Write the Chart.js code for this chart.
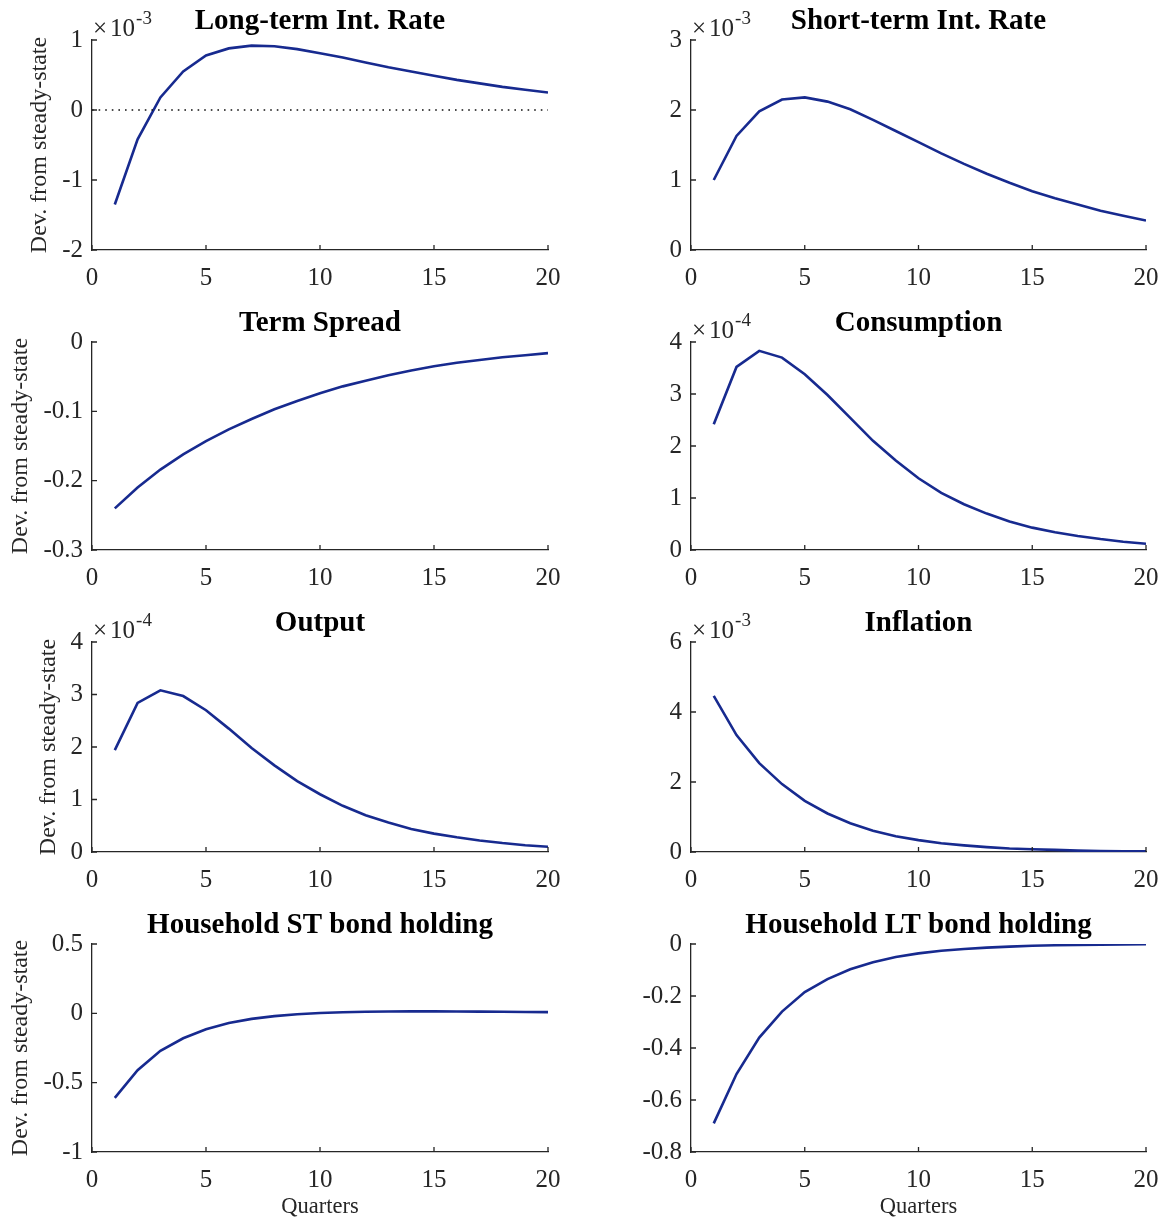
<!DOCTYPE html>
<html lang="en">
  <head>
    <meta charset="UTF-8" />
    <script src="https://cdn.jsdelivr.net/npm/chart.js"></script>
    <title>Impulse responses</title>
    <style>
      body { margin: 0; background: #fff; }
      #wrap { position: relative; width: 1171px; height: 1224px; }
      #wrap canvas { position: absolute; }
    </style>
  </head>
  <body>
    <div id="wrap"></div>

    <script>
      // ---- data ----
      const quarters = [1, 2, 3, 4, 5, 6, 7, 8, 9, 10, 11, 12, 13, 14, 15, 16, 17, 18, 19, 20];
      const xTicks = [0, 5, 10, 15, 20];

      // x 1e-3
      const longRate = [-1.35, -0.42, 0.18, 0.55, 0.78, 0.88, 0.92, 0.91, 0.87, 0.81,
        0.75, 0.68, 0.61, 0.55, 0.49, 0.43, 0.38, 0.33, 0.29, 0.25];
      // x 1e-3
      const shortRate = [1.0, 1.63, 1.98, 2.15, 2.18, 2.12, 2.01, 1.86, 1.70, 1.54,
        1.38, 1.23, 1.09, 0.96, 0.84, 0.74, 0.65, 0.56, 0.49, 0.42];
      const termSpread = [-0.24, -0.21, -0.184, -0.162, -0.143, -0.126, -0.111, -0.097, -0.085, -0.074,
        -0.064, -0.056, -0.048, -0.041, -0.035, -0.030, -0.026, -0.022, -0.019, -0.016];
      // x 1e-4
      const consumption = [2.42, 3.52, 3.83, 3.70, 3.38, 2.98, 2.54, 2.10, 1.72, 1.38,
        1.10, 0.88, 0.70, 0.55, 0.43, 0.34, 0.27, 0.21, 0.16, 0.12];
      // x 1e-4
      const output = [1.94, 2.84, 3.08, 2.97, 2.70, 2.35, 1.98, 1.65, 1.35, 1.10,
        0.88, 0.70, 0.56, 0.44, 0.35, 0.28, 0.22, 0.17, 0.13, 0.10];
      // x 1e-3
      const inflation = [4.46, 3.34, 2.54, 1.94, 1.46, 1.10, 0.82, 0.61, 0.45, 0.34,
        0.25, 0.19, 0.14, 0.10, 0.08, 0.06, 0.04, 0.03, 0.02, 0.02];
      const hhShortBond = [-0.61, -0.41, -0.27, -0.18, -0.115, -0.07, -0.04, -0.02, -0.007, 0.002,
        0.008, 0.011, 0.013, 0.014, 0.014, 0.013, 0.012, 0.011, 0.010, 0.009];
      const hhLongBond = [-0.69, -0.50, -0.36, -0.26, -0.185, -0.135, -0.097, -0.070, -0.050, -0.036,
        -0.026, -0.019, -0.014, -0.010, -0.007, -0.005, -0.004, -0.003, -0.002, -0.001];

      // dotted steady-state line in the first panel
      const zeroLineX = [0, 20];
      const zeroLineY = [0, 0];

      // y tick labels per panel
      const longRateTicks = [-2, -1, 0, 1];
      const shortRateTicks = [0, 1, 2, 3];
      const termSpreadTicks = [-0.3, -0.2, -0.1, 0];
      const consumptionTicks = [0, 1, 2, 3, 4];
      const outputTicks = [0, 1, 2, 3, 4];
      const inflationTicks = [0, 2, 4, 6];
      const hhShortTicks = [-1, -0.5, 0, 0.5];
      const hhLongTicks = [-0.8, -0.6, -0.4, -0.2, 0];

      // ---- layout of the 4x2 grid ----
      const colStart = [0, 600];
      const plotLeft = [92, 691];
      const plotRight = [548, 1146];
      const plotTop = [40, 342, 642, 944];
      const plotBottom = [250, 550, 852, 1152];
      const TOP_SPACE = 42;

      const LINE_COLOR = "#172a8f";
      const AXIS_COLOR = "#262626";
      const FONT = '"Liberation Serif", "Times New Roman", serif';

      const panels = [
        { title: "Long-term Int. Rate", y: longRate, ticks: longRateTicks, exp: "-3", row: 0, col: 0, labelX: 40, zero: true },
        { title: "Short-term Int. Rate", y: shortRate, ticks: shortRateTicks, exp: "-3", row: 0, col: 1 },
        { title: "Term Spread", y: termSpread, ticks: termSpreadTicks, row: 1, col: 0, labelX: 21 },
        { title: "Consumption", y: consumption, ticks: consumptionTicks, exp: "-4", row: 1, col: 1 },
        { title: "Output", y: output, ticks: outputTicks, exp: "-4", row: 2, col: 0, labelX: 49 },
        { title: "Inflation", y: inflation, ticks: inflationTicks, exp: "-3", row: 2, col: 1 },
        { title: "Household ST bond holding", y: hhShortBond, ticks: hhShortTicks, row: 3, col: 0, labelX: 21 },
        { title: "Household LT bond holding", y: hhLongBond, ticks: hhLongTicks, row: 3, col: 1 },
      ];

      Chart.defaults.font.family = FONT;
      Chart.defaults.color = AXIS_COLOR;

      // MATLAB style ticks pointing into the axes
      const innerTicks = {
        id: "innerTicks",
        afterDraw(chart) {
          const { ctx, chartArea, scales } = chart;
          ctx.save();
          ctx.strokeStyle = AXIS_COLOR;
          ctx.lineWidth = 1.3;
          ctx.beginPath();
          scales.x.ticks.forEach((t) => {
            const px = scales.x.getPixelForValue(t.value);
            ctx.moveTo(px, chartArea.bottom);
            ctx.lineTo(px, chartArea.bottom - 5);
          });
          scales.y.ticks.forEach((t) => {
            const py = scales.y.getPixelForValue(t.value);
            ctx.moveTo(chartArea.left, py);
            ctx.lineTo(chartArea.left + 5, py);
          });
          ctx.stroke();
          ctx.restore();
        },
      };

      // "x10^-n" multiplier above the y axis
      const exponentLabel = {
        id: "exponentLabel",
        afterDraw(chart, args, opts) {
          if (!opts.text) return;
          const { ctx, chartArea } = chart;
          ctx.save();
          ctx.fillStyle = AXIS_COLOR;
          ctx.textBaseline = "alphabetic";
          ctx.textAlign = "left";
          ctx.font = "25px " + FONT;
          const x = chartArea.left + 1;
          const y = chartArea.top - 4;
          ctx.fillText("\u00d7", x, y);
          const xw = ctx.measureText("\u00d7").width + 3;
          ctx.fillText("10", x + xw, y);
          const w = xw + ctx.measureText("10").width + 1;
          ctx.font = "19px " + FONT;
          ctx.fillText(opts.text, x + w, y - 12);
          ctx.restore();
        },
      };

      const wrap = document.getElementById("wrap");

      panels.forEach((p) => {
        const bottomSpace = p.row === 3 ? 72 : 42;
        const canvas = document.createElement("canvas");
        const w = plotRight[p.col] - colStart[p.col] + 22;
        const h = TOP_SPACE + (plotBottom[p.row] - plotTop[p.row]) + bottomSpace;
        canvas.width = w;
        canvas.height = h;
        canvas.style.left = colStart[p.col] + "px";
        canvas.style.top = plotTop[p.row] - TOP_SPACE + "px";
        wrap.appendChild(canvas);

        const datasets = [
          {
            data: quarters.map((q, i) => ({ x: q, y: p.y[i] })),
            borderColor: LINE_COLOR,
            borderWidth: 2.6,
            pointRadius: 0,
            tension: 0,
            fill: false,
          },
        ];
        if (p.zero) {
          datasets.unshift({
            data: zeroLineX.map((q, i) => ({ x: q, y: zeroLineY[i] })),
            borderColor: "#111",
            borderWidth: 1.6,
            borderDash: [1.6, 5],
            pointRadius: 0,
            fill: false,
          });
        }

        const yWidth = plotLeft[p.col] - colStart[p.col];
        const ymin = p.ticks[0];
        const ymax = p.ticks[p.ticks.length - 1];

        new Chart(canvas, {
          type: "line",
          data: { datasets: datasets },
          plugins: [innerTicks, exponentLabel],
          options: {
            responsive: false,
            animation: false,
            devicePixelRatio: 1,
            layout: { padding: { left: 0, right: 22, top: 0, bottom: 0 } },
            plugins: {
              legend: { display: false },
              tooltip: { enabled: false },
              title: {
                display: true,
                text: p.title,
                fullSize: false,
                color: "#000",
                font: { size: 29, weight: "bold", lineHeight: 1 },
                padding: { top: 9.5, bottom: 3.5 },
              },
              exponentLabel: { text: p.exp },
            },
            scales: {
              x: {
                type: "linear",
                min: 0,
                max: 20,
                afterBuildTicks: (s) => {
                  s.ticks = xTicks.map((v) => ({ value: v }));
                },
                afterFit: (s) => {
                  s.height = bottomSpace;
                  s.paddingLeft = 0;
                  s.paddingRight = 0;
                },
                grid: { display: false, drawTicks: false },
                border: { display: true, color: AXIS_COLOR, width: 1.3 },
                ticks: {
                  padding: 13,
                  maxRotation: 0,
                  autoSkip: false,
                  color: AXIS_COLOR,
                  font: { size: 25 },
                  callback: (v) => String(v),
                },
                title: {
                  display: p.row === 3,
                  text: "Quarters",
                  color: AXIS_COLOR,
                  font: { size: 22.5 },
                  padding: { top: 0, bottom: 3 },
                },
              },
              y: {
                min: ymin,
                max: ymax,
                afterBuildTicks: (s) => {
                  s.ticks = p.ticks.map((v) => ({ value: v }));
                },
                afterFit: (s) => {
                  s.width = yWidth;
                  s.paddingTop = 0;
                  s.paddingBottom = 0;
                },
                grid: { display: false, drawTicks: false },
                border: { display: true, color: AXIS_COLOR, width: 1.3 },
                ticks: {
                  padding: 9,
                  color: AXIS_COLOR,
                  font: { size: 25 },
                  callback: (v) => String(v),
                },
                title: {
                  display: p.col === 0,
                  text: "Dev. from steady-state",
                  color: AXIS_COLOR,
                  font: { size: 24, lineHeight: 1.2 },
                  padding: { top: (p.labelX || 40) - 14.4, bottom: 0 },
                },
              },
            },
          },
        });
      });
    </script>
  </body>
</html>
